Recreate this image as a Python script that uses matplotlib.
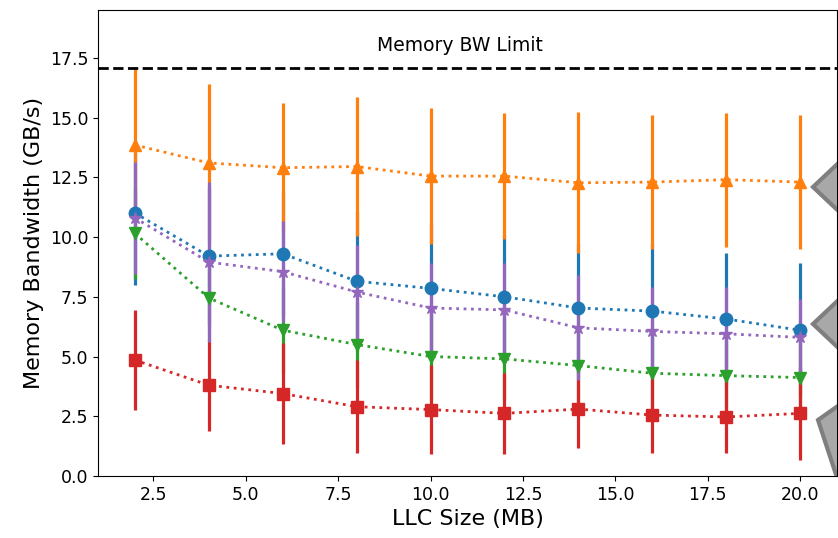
import matplotlib
matplotlib.use('Agg')
import matplotlib.pyplot as plt
from matplotlib.patches import Polygon

# LLC sizes (MB)
llc = [2, 4, 6, 8, 10, 12, 14, 16, 18, 20]

# mean memory bandwidth (GB/s) and error (+/-) per series
blue = [11.0, 9.2, 9.3, 8.15, 7.85, 7.5, 7.03, 6.9, 6.57, 6.1]
blue_err = [3.0, 2.9, 2.6, 2.9, 2.75, 2.6, 2.7, 2.8, 2.76, 2.8]
orange = [13.85, 13.1, 12.9, 12.95, 12.55, 12.55, 12.27, 12.3, 12.4, 12.3]
orange_err = [3.2, 3.3, 2.7, 2.9, 2.85, 2.65, 2.95, 2.8, 2.8, 2.8]
green = [10.15, 7.45, 6.1, 5.5, 5.0, 4.9, 4.62, 4.3, 4.2, 4.12]
green_err = [1.9, 1.8, 1.8, 1.8, 1.8, 1.7, 1.7, 1.7, 1.7, 1.7]
red = [4.85, 3.8, 3.45, 2.9, 2.78, 2.62, 2.8, 2.55, 2.47, 2.62]
red_err = [2.1, 1.9, 2.1, 1.95, 1.85, 1.7, 1.63, 1.58, 1.5, 1.93]
purple = [10.8, 8.95, 8.55, 7.7, 7.03, 6.95, 6.2, 6.05, 5.95, 5.8]
purple_err = [2.35, 3.35, 2.1, 1.95, 1.87, 1.95, 2.2, 1.84, 1.96, 1.6]

mem_limit = 17.07

fig = plt.figure(figsize=(8.38, 5.38), dpi=100)
ax = fig.add_axes([98 / 838, 62 / 538, 739 / 838, 466 / 538])

series = [
    (blue, blue_err, 'C0', 'o'),
    (orange, orange_err, 'C1', '^'),
    (green, green_err, 'C2', 'v'),
    (red, red_err, 'C3', 's'),
    (purple, purple_err, 'C4', '*'),
]
for vals, err, col, mk in series:
    ax.errorbar(llc, vals, yerr=err, color=col, marker=mk, markersize=9,
                linestyle=':', linewidth=2, elinewidth=2.3, capsize=0)

ax.axhline(mem_limit, color='black', linestyle='--', linewidth=2)
ax.text(10.8, 18.0, 'Memory BW Limit', ha='center', va='center', fontsize=13.5)

# gray arrow heads cut off at the right edge
tr = ax.transAxes
def px(x, y):
    return ((x - 98) / 739, (476 - y) / 466)
shapes = [
    [px(813, 187), px(848, 154), px(848, 220)],
    [px(813, 324), px(848, 291), px(848, 357)],
    [px(818, 420), px(852, 396), px(846, 505)],
]
for pts in shapes:
    ax.add_patch(Polygon(pts, closed=True, transform=tr, facecolor='#a8a8a8',
                         edgecolor='#7f7f7f', linewidth=3, clip_on=True, zorder=5))

ax.set_xlim(1.0, 21.0)
ax.set_ylim(0, 19.5)
ax.set_xticks([2.5, 5.0, 7.5, 10.0, 12.5, 15.0, 17.5, 20.0])
ax.set_yticks([0.0, 2.5, 5.0, 7.5, 10.0, 12.5, 15.0, 17.5])
ax.tick_params(labelsize=12.5)
ax.set_xlabel('LLC Size (MB)', fontsize=16)
ax.set_ylabel('Memory Bandwidth (GB/s)', fontsize=16)

plt.savefig('out.png', dpi=100)
plt.close()
